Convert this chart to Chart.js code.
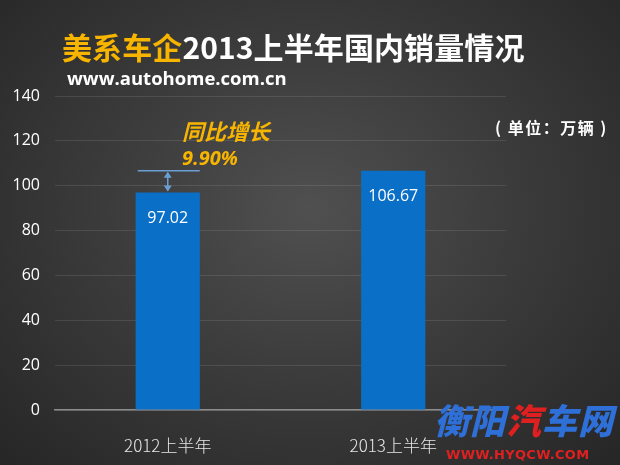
<!DOCTYPE html>
<html>
<head>
<meta charset="utf-8">
<script src="https://cdn.jsdelivr.net/npm/chart.js@4"></script>
<style>
  html, body { margin: 0; padding: 0; }
  body {
    width: 620px; height: 465px; overflow: hidden; position: relative;
    background: radial-gradient(ellipse at 50% 45%, #505050 0%, #3c3c3c 45%, #262626 100%);
    font-family: "Noto Sans CJK SC", "Noto Sans", sans-serif;
  }
  #wrap { position: absolute; left: 0; top: 0; width: 620px; height: 465px; }
  .txt { position: absolute; white-space: nowrap; }
  #title { left: 62px; top: 26px; font-size: 30px; font-weight: 700; color: #fff; letter-spacing: 0.1px; line-height: 40px; }
  #title span { color: #f7b500; }
  #site { left: 67px; top: 65px; font-size: 18.5px; font-weight: 700; color: #fff; font-family: "Open Sans", "Noto Sans", sans-serif; line-height: 26px; }
  #unit { left: 495px; top: 115px; font-size: 16px; font-weight: 700; color: #fff; line-height: 24px; letter-spacing: 1.5px; }
  #grow { left: 182px; top: 116px; font-size: 22px; font-weight: 700; color: #f7b500; font-style: italic; line-height: 28px; }
  #pct { left: 182px; top: 145px; font-size: 20px; font-weight: 700; color: #f7b500; font-style: italic; line-height: 26px; font-family: "Open Sans", sans-serif; }
  #mark { left: 434px; top: 398px; font-size: 35px; font-weight: 900; color: #2e6fd8; font-style: italic; line-height: 42px; letter-spacing: 1px; }
  #mark span { color: #e02020; }
  #markurl { left: 446px; top: 447px; font-size: 13px; font-weight: 700; color: #e02020; line-height: 16px; font-family: "DejaVu Sans", sans-serif; letter-spacing: 0.3px; }
</style>
</head>
<body>
<div id="wrap"><canvas id="c" width="620" height="465"></canvas></div>
<div class="txt" id="title"><span>美系车企</span>2013上半年国内销量情况</div>
<div class="txt" id="site">www.autohome.com.cn</div>
<div class="txt" id="unit">( 单位：万辆 )</div>
<div class="txt" id="grow">同比增长</div>
<div class="txt" id="pct">9.90%</div>
<div class="txt" id="mark">衡阳<span>汽</span>车网</div>
<div class="txt" id="markurl">WWW.HYQCW.COM</div>
<script>
const categories = ["2012上半年", "2013上半年"];
const sales = [97.02, 106.67];
const yTicks = [0, 20, 40, 60, 80, 100, 120, 140];

// value labels inside the bars + growth bracket on the first bar
const barLabels = {
  id: "barLabels",
  afterDatasetsDraw(chart) {
    const { ctx, scales: { y } } = chart;
    const bars = chart.getDatasetMeta(0).data;
    ctx.save();
    ctx.fillStyle = "#ffffff";
    ctx.font = "16px 'Open Sans', 'Noto Sans', sans-serif";
    ctx.textAlign = "center";
    ctx.textBaseline = "middle";
    bars.forEach((b, i) => ctx.fillText(sales[i].toFixed(2), b.x, b.y + 26));

    const b0 = bars[0];
    const yTop = y.getPixelForValue(sales[1]);
    const yBot = y.getPixelForValue(sales[0]);
    ctx.strokeStyle = "#6b9fd4";
    ctx.fillStyle = "#6b9fd4";
    ctx.lineWidth = 1.5;
    ctx.beginPath();
    ctx.moveTo(b0.x - 30, yTop); ctx.lineTo(b0.x + 32, yTop);
    ctx.moveTo(b0.x, yTop + 2); ctx.lineTo(b0.x, yBot - 2);
    ctx.stroke();
    const head = (yy, dir) => {
      ctx.beginPath();
      ctx.moveTo(b0.x, yy); ctx.lineTo(b0.x - 4, yy + dir * 6); ctx.lineTo(b0.x + 4, yy + dir * 6);
      ctx.closePath(); ctx.fill();
    };
    head(yTop + 1, 1);
    head(yBot - 1, -1);
    ctx.restore();
  }
};

new Chart(document.getElementById("c"), {
  type: "bar",
  data: {
    labels: categories,
    datasets: [{ data: sales, backgroundColor: "#0a6fc7", borderWidth: 0, barPercentage: 0.57, categoryPercentage: 0.5 }],
  },
  options: {
    responsive: false, animation: false,
    layout: { padding: { top: 96, right: 114, left: 0, bottom: 0 } },
    plugins: { legend: { display: false }, tooltip: { enabled: false } },
    scales: {
      x: {
        grid: { display: false },
        border: { color: "#8c8c8c", width: 1.5 },
        ticks: { color: "#e6e6e6", font: { size: 17, family: "'Noto Sans CJK SC', sans-serif", weight: 300 }, padding: 17 },
        afterFit: (s) => { s.height = 55; },
      },
      y: {
        min: 0, max: 140,
        afterBuildTicks: (s) => { s.ticks = yTicks.map((v) => ({ value: v })); },
        grid: { color: "rgba(255,255,255,0.10)", drawTicks: false },
        border: { display: false },
        ticks: { color: "#ffffff", font: { size: 16, family: "'Open Sans', 'Noto Sans', sans-serif" }, padding: 15 },
        afterFit: (s) => { s.width = 55; },
      },
    },
  },
  plugins: [barLabels],
});
</script>
</body>
</html>
